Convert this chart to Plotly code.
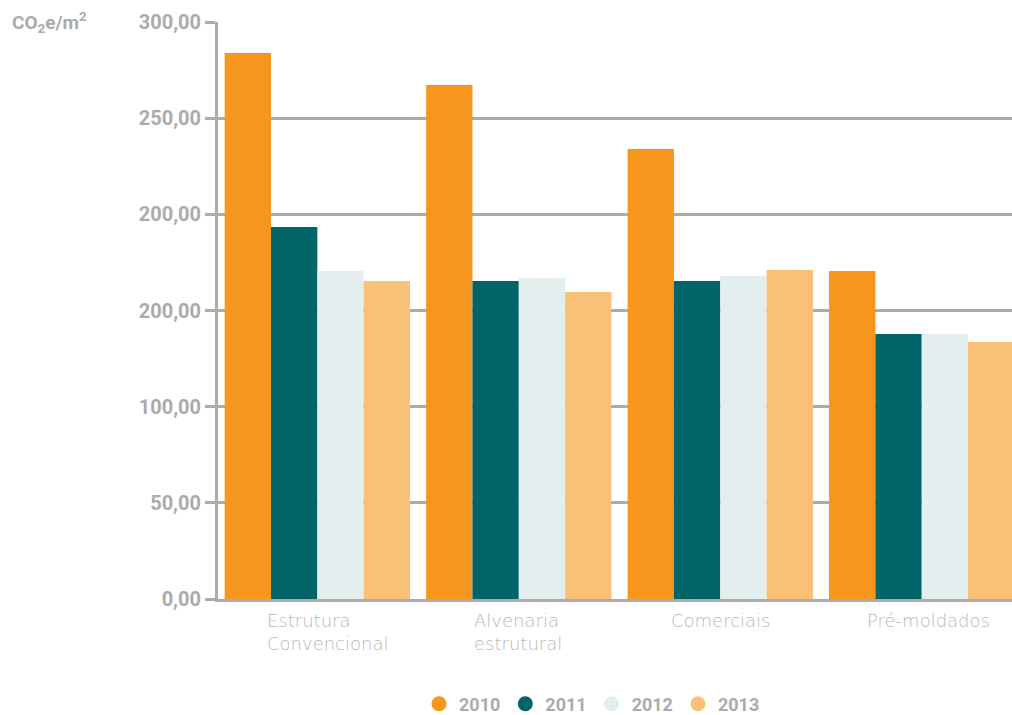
import plotly.graph_objects as go

categories = ["Estrutura<br>Convencional", "Alvenaria<br>estrutural", "Comerciais", "Pré-moldados"]
years = ["2010", "2011", "2012", "2013"]
values_2010 = [283.9, 267.3, 234.0, 170.6]
values_2011 = [193.4, 165.4, 165.4, 137.8]
values_2012 = [170.6, 166.9, 167.9, 137.8]
values_2013 = [165.4, 159.6, 171.1, 133.6]
series = [values_2010, values_2011, values_2012, values_2013]
colors = ["#F7961D", "#006468", "#E3EEEF", "#FAC077"]
tick_vals = [0, 50, 100, 150, 200, 250, 300]
tick_text = ["0,00", "50,00", "100,00", "200,00", "200,00", "250,00", "300,00"]

GRAY = "#ababab"
W, H = 1012, 715
PW, PH = 794, 577
fig = go.Figure()
xs = list(range(len(categories)))
for yr, vals, col in zip(years, series, colors):
    fig.add_trace(go.Bar(x=xs, y=vals, name=yr, marker=dict(color=col, line=dict(width=0)),
                         showlegend=False))
for yr, col in zip(years, colors):
    fig.add_trace(go.Scatter(x=[None], y=[None], mode="markers", name=yr,
                             marker=dict(symbol="circle", size=15, color=col)))

shifts = [10, -1, 1, 7]
for i, c in enumerate(categories):
    fig.add_annotation(x=i, y=0, xref="x", yref="y", text=c, showarrow=False,
                       xanchor="center", yanchor="top", yshift=-9, xshift=shifts[i],
                       align="left",
                       font=dict(family="DejaVu Sans", size=18, color="#b8b8b8", weight=200))

fig.add_annotation(x=-208 / PW, y=1 - 1 / PH, xref="paper", yref="paper",
                   text="CO<sub>2</sub>e/m<sup>2</sup>",
                   showarrow=False, xanchor="left", yanchor="middle",
                   font=dict(family="Roboto", size=19, color=GRAY, weight="bold"))

fig.update_layout(
    width=W, height=H,
    margin=dict(l=218, r=0, t=22, b=116),
    plot_bgcolor="white", paper_bgcolor="white",
    barmode="group", bargap=0.08, bargroupgap=0,
    xaxis=dict(range=[-0.493, 3.448], showticklabels=False, showgrid=False, zeroline=False,
               showline=True, linecolor=GRAY, linewidth=3, ticks="", automargin=False),
    yaxis=dict(range=[0, 300], tickvals=tick_vals, ticktext=tick_text,
               showgrid=True, gridcolor=GRAY, gridwidth=3, zeroline=False,
               showline=True, linecolor=GRAY, linewidth=3, automargin=False,
               ticks="outside", ticklen=10, tickwidth=3, tickcolor=GRAY,
               tickfont=dict(family="Roboto", size=20, color=GRAY, weight="bold")),
    legend=dict(orientation="h", xref="container", x=592 / W, xanchor="center",
                yref="container", y=1 - 704 / H, yanchor="middle",
                font=dict(family="Roboto", size=18, color=GRAY, weight="bold"),
                itemwidth=30, tracegroupgap=0),
    showlegend=True,
)
fig.write_html("out.html", config={"displayModeBar": False},
               post_script="document.body.style.margin='0';document.body.style.overflow='hidden';")
